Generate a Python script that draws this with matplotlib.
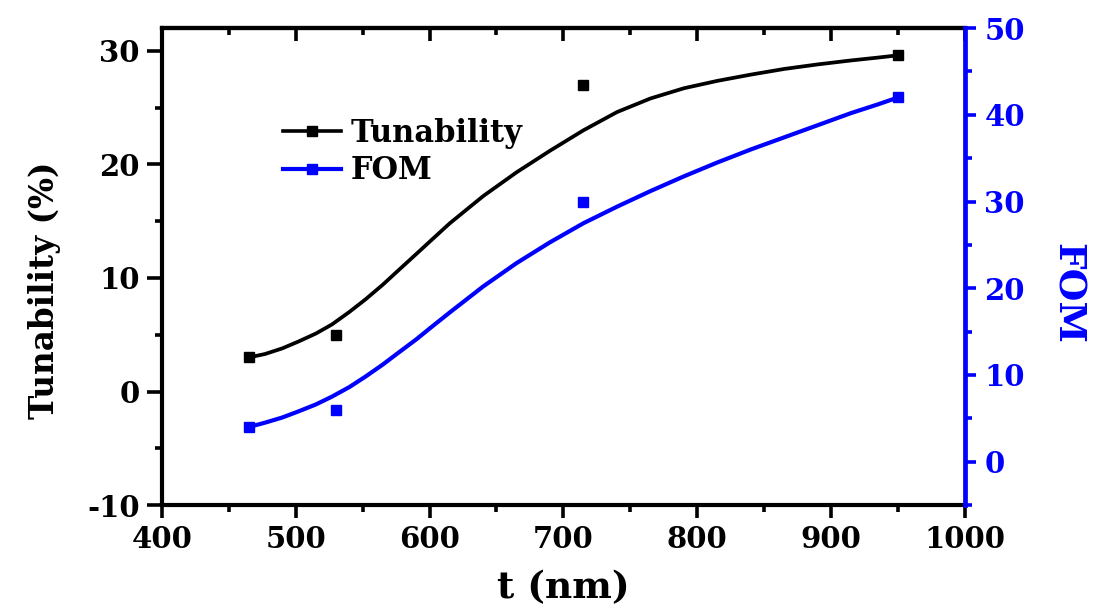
import matplotlib
matplotlib.use("Agg")
import matplotlib.pyplot as plt
from matplotlib.lines import Line2D
from matplotlib.ticker import MultipleLocator

# Measured points
thickness = [465, 530, 715, 950]
tunability = [3.0, 5.0, 27.0, 29.6]
fom = [4.0, 6.0, 30.0, 42.0]

# Smooth fitted curves
fit_t = [465, 477, 490, 502, 515, 527, 540, 552, 565, 577, 590, 602, 615,
         640, 665, 690, 715, 740, 765, 790, 815, 840, 865, 890, 915, 935, 950]
fit_tunability = [3.0, 3.3, 3.8, 4.4, 5.1, 5.9, 7.0, 8.1, 9.4, 10.7, 12.1, 13.4, 14.8,
                  17.2, 19.3, 21.2, 23.0, 24.6, 25.8, 26.7, 27.35, 27.9, 28.4, 28.8,
                  29.15, 29.4, 29.6]
fit_fom = [4.0, 4.5, 5.1, 5.8, 6.6, 7.5, 8.6, 9.8, 11.2, 12.6, 14.1, 15.6, 17.2,
           20.2, 22.9, 25.3, 27.5, 29.4, 31.2, 32.9, 34.5, 36.0, 37.4, 38.8,
           40.2, 41.2, 42.0]

BLUE = "#0000ff"
FONT = "DejaVu Serif"
plt.rcParams["font.family"] = FONT
plt.rcParams["font.weight"] = "bold"
plt.rcParams["axes.unicode_minus"] = False

fig = plt.figure(figsize=(10.94, 6.10), dpi=100)
ax = fig.add_axes([0.148, 0.172, 0.734, 0.782])
ax2 = ax.twinx()

line_kw = dict(solid_joinstyle="round", solid_capstyle="round", zorder=3)
ax.plot(fit_t, fit_tunability, color="black", lw=2.7, **line_kw)
ax.plot(thickness, tunability, "s", color="black", ms=7.5, zorder=4)
ax2.plot(fit_t, fit_fom, color=BLUE, lw=3.0, **line_kw)
ax2.plot(thickness, fom, "s", color=BLUE, ms=7.5, zorder=4)

ax.set_xlim(400, 1000)
ax.set_ylim(-10, 32)
ax2.set_ylim(-5, 50)

ax.xaxis.set_major_locator(MultipleLocator(100))
ax.xaxis.set_minor_locator(MultipleLocator(50))
ax.yaxis.set_major_locator(MultipleLocator(10))
ax.yaxis.set_minor_locator(MultipleLocator(5))
ax2.yaxis.set_major_locator(MultipleLocator(10))
ax2.yaxis.set_minor_locator(MultipleLocator(5))

for s in ax.spines.values():
    s.set_linewidth(3)
ax.spines["right"].set_visible(False)
for name, s in ax2.spines.items():
    s.set_visible(name == "right")
ax2.spines["right"].set_color(BLUE)
ax2.spines["right"].set_linewidth(3.4)

tick_font = dict(labelsize=21)
ax.tick_params(axis="both", which="major", direction="out", length=9, width=2.6, pad=5, **tick_font)
ax.tick_params(axis="both", which="minor", direction="out", length=5, width=2.6)
ax.tick_params(axis="y", which="major", length=11, pad=5)
ax2.tick_params(axis="y", which="major", direction="out", length=8, width=2.6,
                color=BLUE, labelcolor=BLUE, pad=6, **tick_font)
ax2.tick_params(axis="y", which="minor", direction="out", length=5, width=2.6, color=BLUE)
for lab in ax.get_xticklabels() + ax.get_yticklabels() + ax2.get_yticklabels():
    lab.set_fontweight("bold")

# inward ticks along the top edge
top = ax.secondary_xaxis("top")
top.xaxis.set_major_locator(MultipleLocator(100))
top.xaxis.set_minor_locator(MultipleLocator(50))
top.tick_params(which="major", direction="in", length=9, width=2.6, labeltop=False)
top.tick_params(which="minor", direction="in", length=5, width=2.6)
top.spines["top"].set_linewidth(3)

ax.set_xlabel("t (nm)", fontsize=27, fontweight="bold", labelpad=11)
ax.set_ylabel("Tunability (%)", fontsize=23.5, fontweight="bold", labelpad=19)
ax.yaxis.label.set_y(0.45)
ax2.set_ylabel("FOM", fontsize=27, fontweight="bold", color=BLUE, rotation=270, labelpad=44)
ax2.yaxis.label.set_y(0.444)

handles = [
    Line2D([], [], color="black", lw=2.6, marker="s", ms=6.5),
    Line2D([], [], color=BLUE, lw=3.0, marker="s", ms=6.5),
]
ax.legend(handles, ["Tunability", "FOM"], loc="upper left",
          bbox_to_anchor=(0.151, 0.812), frameon=False, numpoints=1,
          borderpad=0, borderaxespad=0,
          handlelength=1.9, handletextpad=0.3, labelspacing=0.22,
          prop=dict(family=FONT, weight="bold", size=22))

fig.savefig("out.png", dpi=100)
